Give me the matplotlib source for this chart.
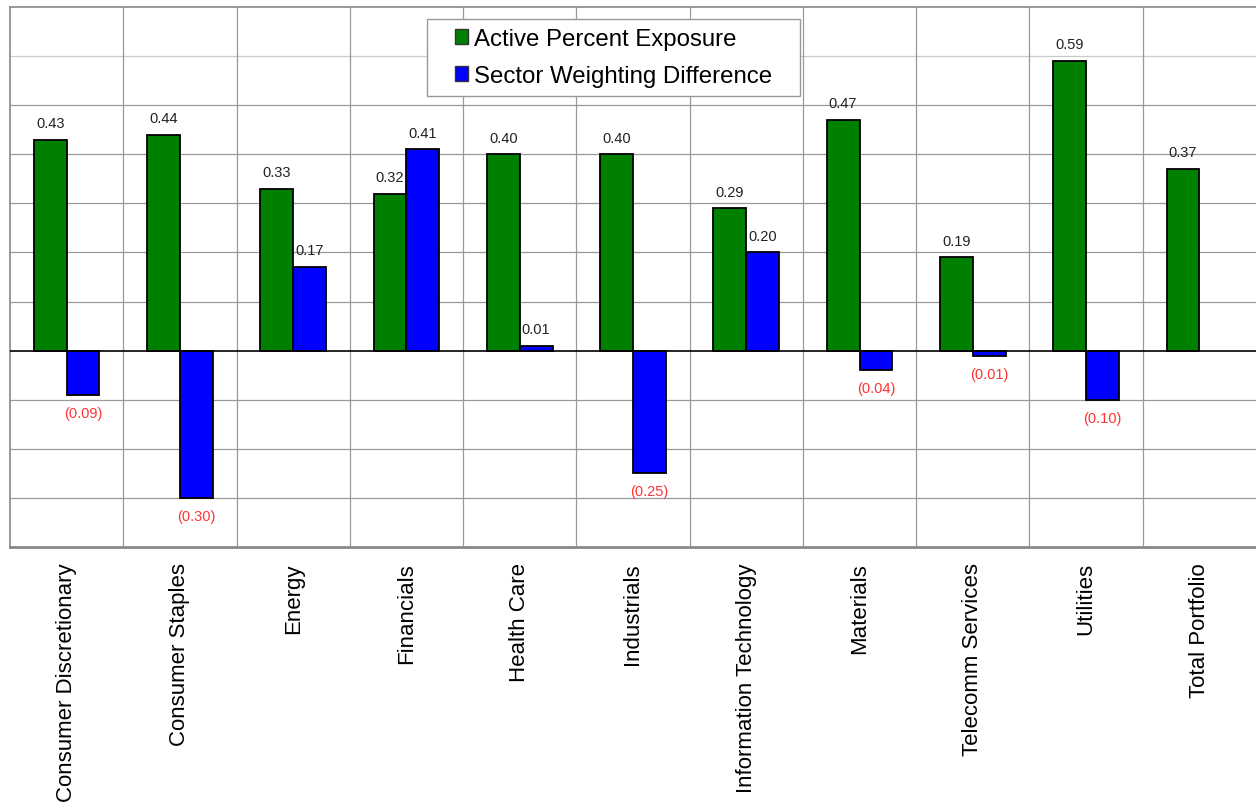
import matplotlib
matplotlib.use("Agg")
import matplotlib.pyplot as plt
from matplotlib.patches import Rectangle
import numpy as np

categories = ["Consumer Discretionary", "Consumer Staples", "Energy", "Financials",
              "Health Care", "Industrials", "Information Technology", "Materials",
              "Telecomm Services", "Utilities", "Total Portfolio"]
active_exposure = [0.43, 0.44, 0.33, 0.32, 0.40, 0.40, 0.29, 0.47, 0.19, 0.59, 0.37]
sector_diff = [-0.09, -0.30, 0.17, 0.41, 0.01, -0.25, 0.20, -0.04, -0.01, -0.10, None]

plt.rcParams['font.family'] = ['Liberation Sans', 'DejaVu Sans']

W, H = 1256, 803
fig = plt.figure(figsize=(W/100, H/100), dpi=100)
AX_L, AX_T, AX_R, AX_B = 10, 8, 1256, 548
ax = fig.add_axes([AX_L/W, 1 - AX_B/H, (AX_R-AX_L)/W, (AX_B-AX_T)/H])


def ax_frac(px, py):
    return (px - AX_L) / (AX_R - AX_L), (AX_B - py) / (AX_B - AX_T)


n = len(categories)
x = np.arange(n)
w = 0.29

ax.set_xlim(-0.5, n - 0.5)
ax.set_ylim(-0.4, 0.7)

# grid
for yv in np.arange(-0.3, 0.7, 0.1):
    if abs(yv) < 1e-9:
        continue
    col = "#cccccc" if abs(yv - 0.6) < 1e-9 else "#999999"
    ax.axhline(yv, color=col, lw=0.9, zorder=0)
for xv in np.arange(0.5, n - 0.5, 1):
    ax.axvline(xv, color="#999999", lw=0.9, zorder=0)

g = ax.bar(x - w/2, active_exposure, width=w, color="#008000", edgecolor="black",
           linewidth=1.3, label="Active Percent Exposure", zorder=2)
sd_x = [xi + w/2 for xi, v in zip(x, sector_diff) if v is not None]
sd_v = [v for v in sector_diff if v is not None]
b = ax.bar(sd_x, sd_v, width=w, color="#0000FF", edgecolor="black",
           linewidth=1.3, label="Sector Weighting Difference", zorder=2)

ax.axhline(0, color="black", lw=1.2, zorder=3)

lab_font = ['Liberation Sans Narrow', 'Liberation Sans', 'DejaVu Sans']
for xi, v in zip(x - w/2, active_exposure):
    ax.annotate(f"{v:.2f}", (xi, v), xytext=(0, 7), textcoords="offset points",
                ha="center", va="bottom", fontsize=10.5, family=lab_font, color="#222222")
for xi, v in zip(sd_x, sd_v):
    if v >= 0:
        ax.annotate(f"{v:.2f}", (xi, v), xytext=(0, 7), textcoords="offset points",
                    ha="center", va="bottom", fontsize=10.5, family=lab_font, color="#222222")
    else:
        ax.annotate(f"({abs(v):.2f})", (xi, v), xytext=(0, -8), textcoords="offset points",
                    ha="center", va="top", fontsize=10.5, family=lab_font, color="#FF3333")

ax.set_yticks([])
ax.set_xticks(x)
ax.set_xticklabels(categories, rotation=90, fontsize=16)
ax.tick_params(axis="x", length=0, pad=11)

for s in ["left", "top", "bottom"]:
    ax.spines[s].set_color("#888888")
    ax.spines[s].set_linewidth(1.2)
ax.spines["bottom"].set_linewidth(2)
ax.spines["right"].set_visible(False)

# legend frame
fx0, fy1 = ax_frac(427, 20)
fx1, fy0 = ax_frac(800, 97)
ax.add_patch(Rectangle((fx0, fy0), fx1 - fx0, fy1 - fy0, transform=ax.transAxes,
                       facecolor="white", edgecolor="#999999", linewidth=1,
                       zorder=6, clip_on=False))

leg = ax.legend(loc="upper left", bbox_to_anchor=ax_frac(455, 29),
                fontsize=17.3, frameon=False, handlelength=0.55,
                handleheight=0.55, handletextpad=0.25, borderpad=0, labelspacing=0.62,
                borderaxespad=0)
leg.set_zorder(7)
for h in leg.legend_handles:
    h.set_linewidth(1.0)
    h.set_edgecolor("#333333")

fig.savefig("out.png", dpi=100)
